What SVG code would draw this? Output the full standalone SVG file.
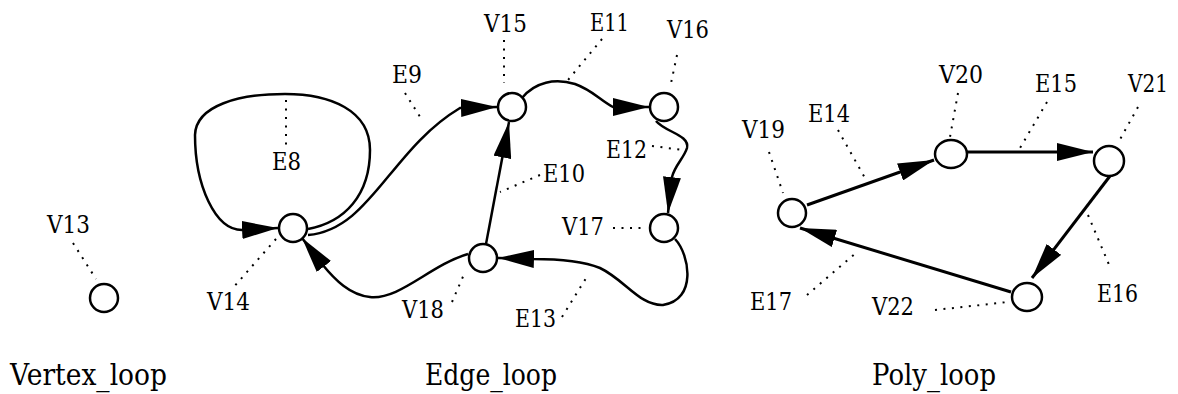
<svg xmlns="http://www.w3.org/2000/svg" width="1178" height="394" viewBox="0 0 1178 394">
<style>
.v{fill:#fff;stroke:#000;stroke-width:2.5}
.e{fill:none;stroke:#000;stroke-width:2.5}
.p{fill:none;stroke:#000;stroke-width:3}
.d{fill:none;stroke:#000;stroke-width:2;stroke-dasharray:2 6.5}
</style>
<defs>
<marker id="ah" markerUnits="userSpaceOnUse" markerWidth="36" markerHeight="18" refX="36" refY="9" orient="auto" viewBox="0 0 36 18">
<path d="M0,0 L36,9 L0,18 z" fill="#000"/>
</marker>
</defs>
<g id="connectors">
<path class="e" d="M308,229 C345,222 370,195 370,150 C370,110 330,94 285,94 C240,94 196,105 195,135 C195,185 215,230 242,230 L278,228" marker-end="url(#ah)"/>
<path class="e" d="M308,235 C370,230 390,150 460,108 L497,107" marker-end="url(#ah)"/>
<path class="e" d="M522,98 C535,82 555,78 575,84 C592,90 600,100 613,107 L649,107" marker-end="url(#ah)"/>
<path class="e" d="M656,121 C665,132 690,135 687,148 C684,158 675,165 672,177 L668,213" marker-end="url(#ah)"/>
<path class="e" d="M675,239 C690,255 697,300 663,305 C640,306 625,280 600,268 C580,260 555,259 533,259 L498,258" marker-end="url(#ah)"/>
<path class="e" d="M486,244 L509,122" marker-end="url(#ah)"/>
<path class="e" d="M468,254 C430,265 400,300 370,297 C350,295 335,280 322,264 L302,238" marker-end="url(#ah)"/>
<path class="p" d="M807,205 L934,160" marker-end="url(#ah)"/>
<path class="p" d="M967,152 L1093,152" marker-end="url(#ah)"/>
<path class="p" d="M1110,176 L1032,278" marker-end="url(#ah)"/>
<path class="p" d="M1011,292 L800,228" marker-end="url(#ah)"/>
<g id="leaders">
<path class="d" d="M73,243 L96,279"/>
<path class="d" d="M286,100 L286,145"/>
<path class="d" d="M276,239 L232,289"/>
<path class="d" d="M405,93 L422,120"/>
<path class="d" d="M504,40 L504,83"/>
<path class="d" d="M602,39 L568,80"/>
<path class="d" d="M677,55 L670,88"/>
<path class="d" d="M652,146 L683,150"/>
<path class="d" d="M540,175 L500,192"/>
<path class="d" d="M613,228 L647,228"/>
<path class="d" d="M562,317 L588,275"/>
<path class="d" d="M452,302 L465,272"/>
<path class="d" d="M769,152 L783,193"/>
<path class="d" d="M838,130 L865,178"/>
<path class="d" d="M958,93 L950,137"/>
<path class="d" d="M1047,102 L1020,148"/>
<path class="d" d="M1138,107 L1118,143"/>
<path class="d" d="M1088,215 L1110,267"/>
<path class="d" d="M807,295 L857,252"/>
<path class="d" d="M935,310 L1008,302"/>
</g>
</g>
<g font-family="'DejaVu Serif', 'Liberation Serif', serif" font-size="25" fill="#000">
<g id="V13"><circle class="v" cx="104" cy="298" r="14"/><text x="47" y="233" textLength="43" lengthAdjust="spacingAndGlyphs">V13</text></g>
<g id="V14"><circle class="v" cx="293" cy="228" r="14"/><text x="207" y="310" textLength="43" lengthAdjust="spacingAndGlyphs">V14</text></g>
<g id="V15"><circle class="v" cx="512" cy="107" r="14"/><text x="484" y="32" textLength="43" lengthAdjust="spacingAndGlyphs">V15</text></g>
<g id="V16"><circle class="v" cx="664" cy="107" r="14"/><text x="667" y="38" textLength="42" lengthAdjust="spacingAndGlyphs">V16</text></g>
<g id="V17"><circle class="v" cx="664" cy="228" r="14"/><text x="562" y="235" textLength="42" lengthAdjust="spacingAndGlyphs">V17</text></g>
<g id="V18"><circle class="v" cx="483" cy="258" r="14"/><text x="402" y="318" textLength="42" lengthAdjust="spacingAndGlyphs">V18</text></g>
<g id="V19"><circle class="v" cx="792" cy="213" r="14"/><text x="742" y="138" textLength="43" lengthAdjust="spacingAndGlyphs">V19</text></g>
<g id="V20"><ellipse class="v" cx="951" cy="154" rx="16" ry="14"/><text x="939" y="83" textLength="44" lengthAdjust="spacingAndGlyphs">V20</text></g>
<g id="V21"><ellipse class="v" cx="1109" cy="161" rx="15" ry="15"/><text x="1128" y="92" textLength="40" lengthAdjust="spacingAndGlyphs">V21</text></g>
<g id="V22"><ellipse class="v" cx="1027" cy="297" rx="15" ry="14"/><text x="872" y="315" textLength="42" lengthAdjust="spacingAndGlyphs">V22</text></g>
<g id="edge-labels">
<text x="272" y="170" textLength="29" lengthAdjust="spacingAndGlyphs">E8</text>
<text x="392" y="83" textLength="30" lengthAdjust="spacingAndGlyphs">E9</text>
<text x="543" y="182" textLength="42" lengthAdjust="spacingAndGlyphs">E10</text>
<text x="590" y="31" textLength="39" lengthAdjust="spacingAndGlyphs">E11</text>
<text x="606" y="158" textLength="41" lengthAdjust="spacingAndGlyphs">E12</text>
<text x="515" y="327" textLength="41" lengthAdjust="spacingAndGlyphs">E13</text>
<text x="808" y="122" textLength="42" lengthAdjust="spacingAndGlyphs">E14</text>
<text x="1035" y="92" textLength="42" lengthAdjust="spacingAndGlyphs">E15</text>
<text x="1097" y="302" textLength="41" lengthAdjust="spacingAndGlyphs">E16</text>
<text x="750" y="310" textLength="42" lengthAdjust="spacingAndGlyphs">E17</text>
</g>
<g id="titles" font-size="30">
<text x="10" y="385" textLength="157" lengthAdjust="spacingAndGlyphs">Vertex_loop</text>
<text x="425" y="385" textLength="132" lengthAdjust="spacingAndGlyphs">Edge_loop</text>
<text x="872" y="385" textLength="124" lengthAdjust="spacingAndGlyphs">Poly_loop</text>
</g>
</g>
</svg>
